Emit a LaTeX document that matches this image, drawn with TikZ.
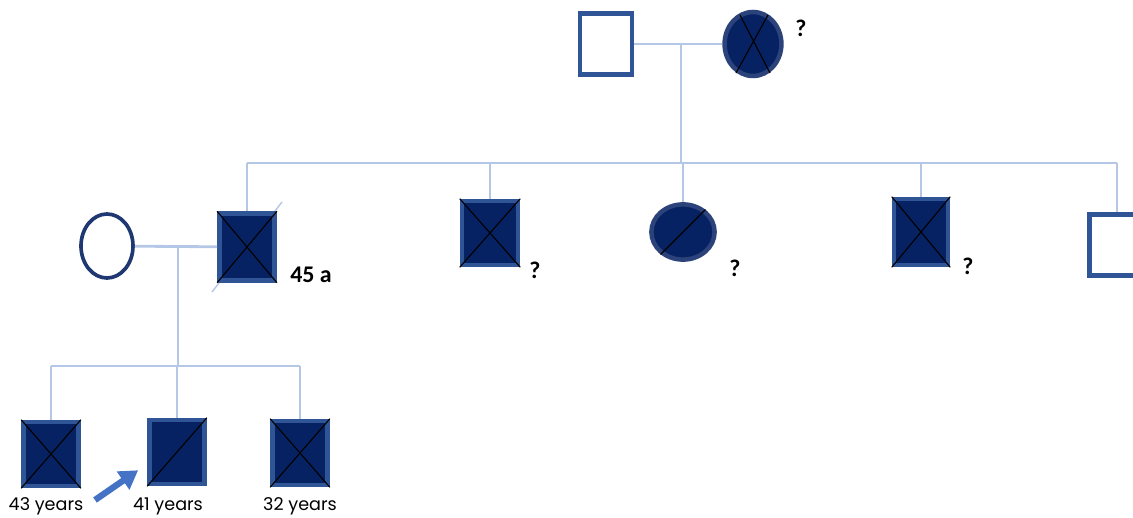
\documentclass[tikz,border=0pt]{standalone}
\usepackage{fontspec}
\setmainfont{Carlito}
\newfontfamily\agefont{Poppins}
\usepackage{tikz}
\usetikzlibrary{shapes.geometric,arrows.meta}
\definecolor{navy}{HTML}{062262}
\definecolor{rimblue}{HTML}{2F5597}
\definecolor{linkblue}{HTML}{B4C7E7}
\definecolor{arrowblue}{HTML}{4472C4}

\begin{document}
\begin{tikzpicture}[x=0.025cm,y=-0.025cm,
    link/.style={draw=linkblue,line width=2pt},
    male/.style={rectangle,inner sep=0pt,line width=3.2pt,draw=rimblue},
    female/.style={ellipse,inner sep=0pt,line width=3.2pt,draw=rimblue},
    affected/.style={fill=navy},
    dead/.style={draw=black,line width=0.8pt},
    qmark/.style={font=\bfseries\fontsize{17pt}{17pt}\selectfont,inner sep=0pt},
    agelab/.style={font=\agefont\fontsize{12.5pt}{12.5pt}\selectfont,inner sep=0pt}]
    \useasboundingbox (0,0) rectangle (1133,518);
    \clip (0,0) rectangle (1133,518);
    % faint mark behind the father
    \draw[linkblue,line width=1pt] (212,292) -- (282,202);
    % grandparents
    \node[male,fill=white,minimum width=1.3cm,minimum height=1.52cm] (gf) at (606,44) {};
    \node[female,affected,draw=navy!85,minimum width=1.42cm,minimum height=1.6cm] (gm) at (753,44) {};
    \coordinate (gfm) at (681,44);
    \coordinate (sib) at (681,163);
    % children
    \node[male,affected,minimum width=1.38cm,minimum height=1.67cm] (c1) at (247,247) {};
    \node[male,affected,minimum width=1.4cm,minimum height=1.6cm] (c2) at (490,233) {};
    \node[female,affected,draw=navy!85,minimum width=1.58cm,minimum height=1.38cm] (c3) at (683,232) {};
    \node[male,affected,minimum width=1.35cm,minimum height=1.65cm] (c4) at (921,232) {};
    \node[male,fill=white,minimum width=1.38cm,minimum height=1.52cm] (c5) at (1117,245) {};
    % spouse and grandchildren
    \node[female,fill=white,draw=navy!90,line width=2.6pt,minimum width=1.3cm,minimum height=1.6cm] (sp) at (107,246) {};
    \coordinate (spm) at (178,246);
    \coordinate (sib2) at (178,366);
    \foreach \x/\y/\n in {51/454/g1,177/452/g2,300/453/g3}
        \node[male,affected,minimum width=1.38cm,minimum height=1.6cm] (\n) at (\x,\y) {};

    % lines of descent
    \draw[link] (gf) -- (gm);
    \draw[link] (gfm) -- (sib);
    \draw[link] (c1 |- sib) -- (c5 |- sib);
    \foreach \n in {c1,c2,c3,c4,c5} \draw[link] (\n |- sib) -- (\n.north);
    \draw[link] (sp) -- (c1);
    \draw[link] (spm) -- (sib2);
    \draw[link] (g1 |- sib2) -- (g3 |- sib2);
    \foreach \n in {g1,g2,g3} \draw[link] (\n |- sib2) -- (\n.north);

    % deceased marks
    \draw[dead] ([shift={(-17,29)}]gm.center) -- ([shift={(15,-29)}]gm.center);
    \draw[dead] ([shift={(-13,-29)}]gm.center) -- ([shift={(17,29)}]gm.center);
    \foreach \n in {c1,c2,c4,g1,g3} {
        \draw[dead] (\n.north west) -- (\n.south east);
        \draw[dead] (\n.south west) -- (\n.north east);
    }
    \draw[dead] (c3.-135) -- (c3.45);
    \draw[dead] (g2.south west) -- (g2.north east);

    % labels
    \node[qmark] (qgm) at (801,28) {?};
    \node[qmark,anchor=west] (age1) at (290,275) {45 a};
    \node[qmark] (q2) at (535,270) {?};
    \node[qmark] (q3) at (735,268) {?};
    \node[qmark] (q4) at (968,266) {?};
    \foreach \x/\lab/\n in {46/43/a1,168/41/a2,300/32/a3}
        \node[agelab] (\n) at (\x,506) {\lab\ years};

    % index case
    \coordinate (pt) at (95,500);
    \draw[arrowblue,line width=4.5pt,-{Triangle[length=13pt,width=15pt]}] (pt) -- ([shift={(-9,-16)}]g2.south west);
\end{tikzpicture}
\end{document}
